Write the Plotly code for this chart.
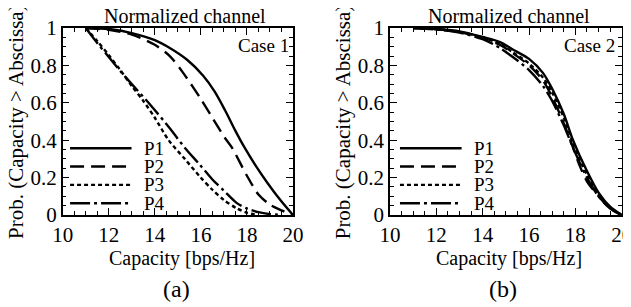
import plotly.graph_objects as go

# ---------------- data ----------------
series_names = ["P1", "P2", "P3", "P4"]

# Case 1 (panel a)
c1_p1_x = [11, 12, 13, 14, 14.65, 15.4, 16.1, 16.6, 17.05, 17.5, 17.9, 18.4, 18.9, 19.45, 20]
c1_p1_y = [1.0, 0.995, 0.973, 0.935, 0.893, 0.83, 0.745, 0.66, 0.56, 0.45, 0.36, 0.26, 0.17, 0.08, 0.0]
c1_p2_x = [11, 12, 13, 14, 14.65, 15.23, 16, 16.5, 17, 17.35, 18, 18.5, 19, 19.5, 20]
c1_p2_y = [1.0, 0.99, 0.965, 0.91, 0.85, 0.76, 0.62, 0.52, 0.42, 0.36, 0.21, 0.11, 0.055, 0.025, 0.0]
c1_p3_x = [11, 11.5, 12, 12.5, 13, 13.5, 14, 14.6, 15.3, 15.96, 16.5, 17, 17.55, 18, 18.5]
c1_p3_y = [1.0, 0.93, 0.855, 0.775, 0.69, 0.61, 0.52, 0.40, 0.30, 0.205, 0.135, 0.08, 0.036, 0.012, 0.0]
c1_p4_x = [11, 11.5, 12, 12.5, 13, 13.8, 14.65, 15.3, 15.96, 16.5, 17, 17.55, 18, 18.5, 19, 19.5]
c1_p4_y = [1.0, 0.92, 0.845, 0.77, 0.70, 0.59, 0.464, 0.36, 0.268, 0.19, 0.13, 0.065, 0.035, 0.015, 0.005, 0.0]

# Case 2 (panel b)
c2_p1_x = [11, 12, 13, 14, 14.75, 15.3, 16, 16.6, 17, 17.5, 17.9, 18.5, 19, 19.5, 20]
c2_p1_y = [1.0, 0.995, 0.982, 0.952, 0.925, 0.885, 0.835, 0.76, 0.675, 0.54, 0.40, 0.235, 0.12, 0.045, 0.0]
c2_p2_x = [11, 12, 13, 14, 14.75, 15.3, 16, 16.6, 17, 17.5, 17.9, 18.2, 18.5, 19, 19.5, 20]
c2_p2_y = [1.0, 0.993, 0.978, 0.945, 0.91, 0.865, 0.80, 0.72, 0.63, 0.49, 0.36, 0.26, 0.18, 0.10, 0.035, 0.0]
c2_p3_x = [11, 12, 13, 14, 14.75, 15.3, 16, 16.6, 17, 17.5, 17.9, 18.5, 19, 19.5, 20]
c2_p3_y = [1.0, 0.994, 0.98, 0.948, 0.915, 0.87, 0.81, 0.735, 0.655, 0.52, 0.385, 0.215, 0.11, 0.04, 0.0]
c2_p4_x = [11, 12, 13, 14, 14.75, 15.3, 16, 16.6, 17, 17.5, 17.9, 18.5, 19, 19.5, 20]
c2_p4_y = [1.0, 0.992, 0.975, 0.94, 0.893, 0.845, 0.775, 0.69, 0.61, 0.48, 0.36, 0.20, 0.10, 0.035, 0.0]

x_ticks = [10, 12, 14, 16, 18, 20]
y_ticks = [0, 0.2, 0.4, 0.6, 0.8, 1]
y_tick_text = ["0", "0.2", "0.4", "0.6", "0.8", "1"]

panel_titles = ["Normalized channel", "Normalized channel"]
case_labels = ["Case 1", "Case 2"]
panel_letters = ["(a)", "(b)"]
x_title = "Capacity [bps/Hz]"
y_title = "Prob. (Capacity > Abscissa)"

# legend rows (value positions inside the axes)
legend_y = [0.357, 0.259, 0.161, 0.063]
legend_x = [(10.32, 12.99, 13.45), (10.43, 13.09, 13.55)]

# ---------------- styling ----------------
FONT = "Liberation Serif"
dashes = ["solid", "14px,7px", "4px,3px", "20px,4px,3px,4px"]
LW = 2.4

# the page body adds an 8px margin; size the figure so it fills the window
OFF = 8.0
W, H = 631 - 8, 307 - 8


def px(xp):
    return (xp - OFF) / W


def py(yp):
    return 1 - (yp - OFF) / H


dom_x = [[px(62.7), px(293.0)], [px(390.0), px(621.7)]]
dom_y = [py(215.0), py(28.0)]

fig = go.Figure()

cases = [
    [(c1_p1_x, c1_p1_y), (c1_p2_x, c1_p2_y), (c1_p3_x, c1_p3_y), (c1_p4_x, c1_p4_y)],
    [(c2_p1_x, c2_p1_y), (c2_p2_x, c2_p2_y), (c2_p3_x, c2_p3_y), (c2_p4_x, c2_p4_y)],
]

for ci, case in enumerate(cases):
    xa = "x" if ci == 0 else "x2"
    ya = "y" if ci == 0 else "y2"
    for si, (xs, ys) in enumerate(case):
        fig.add_trace(go.Scatter(
            x=xs, y=ys, mode="lines", name=series_names[si],
            line=dict(color="black", width=LW, dash=dashes[si], shape="spline", smoothing=0.8),
            xaxis=xa, yaxis=ya, showlegend=False, hoverinfo="skip",
        ))

axis_common = dict(
    showline=True, linecolor="black", linewidth=1.5, mirror="ticks",
    ticks="inside", ticklen=7, tickwidth=1.3, tickcolor="black",
    showgrid=False, zeroline=False, automargin=False, ticklabeloverflow="allow",
    tickfont=dict(family=FONT, size=21, color="black"),
)

layout = dict(
    width=W, height=H, margin=dict(l=0, r=0, t=0, b=0, pad=0),
    paper_bgcolor="white", plot_bgcolor="white",
    font=dict(family=FONT, color="black"),
)
for ci in range(2):
    sx = "xaxis" if ci == 0 else "xaxis2"
    sy = "yaxis" if ci == 0 else "yaxis2"
    layout[sx] = dict(axis_common, domain=dom_x[ci], range=[10, 20], tickvals=x_ticks,
                      anchor="y" if ci == 0 else "y2",
                      minor=dict(dtick=0.5, ticks="inside", ticklen=4, tickwidth=1.1, tickcolor="black"))
    layout[sy] = dict(axis_common, domain=dom_y, range=[0, 1], tickvals=y_ticks, ticktext=y_tick_text,
                      anchor="x" if ci == 0 else "x2",
                      minor=dict(dtick=0.05, ticks="inside", ticklen=4, tickwidth=1.1, tickcolor="black"))
fig.update_layout(**layout)

ann = []
shapes = []
offsets = [0, 390.0 - 62.7]
title_cx = [184.5, 509.0]
xt_cx = [181.5, 509.5]
letter_cx = [176.0, 503.0]
case_right = [290.5, 616.5]
for ci in range(2):
    xr = "x" if ci == 0 else "x2"
    yr = "y" if ci == 0 else "y2"
    ann.append(dict(text=panel_titles[ci], xref="paper", yref="paper", x=px(title_cx[ci]), y=py(16.0),
                    showarrow=False, xanchor="center", yanchor="middle",
                    font=dict(family=FONT, size=20, color="black")))
    ann.append(dict(text=case_labels[ci], xref="paper", yref="paper", x=px(case_right[ci]), y=py(45.0),
                    showarrow=False, xanchor="right", yanchor="middle",
                    font=dict(family=FONT, size=19, color="black")))
    ann.append(dict(text=x_title, xref="paper", yref="paper", x=px(xt_cx[ci]), y=py(258.0),
                    showarrow=False, xanchor="center", yanchor="middle",
                    font=dict(family=FONT, size=20, color="black")))
    ann.append(dict(text=panel_letters[ci], xref="paper", yref="paper", x=px(letter_cx[ci]), y=py(289.0),
                    showarrow=False, xanchor="center", yanchor="middle",
                    font=dict(family=FONT, size=24, color="black")))
    ann.append(dict(text=y_title, xref="paper", yref="paper", x=px(16.0 + offsets[ci]), y=py(122.0),
                    showarrow=False, xanchor="center", yanchor="middle", textangle=-90,
                    font=dict(family=FONT, size=21, color="black")))
    x0, x1, xl = legend_x[ci]
    for si in range(4):
        shapes.append(dict(type="line", xref=xr, yref=yr, x0=x0, x1=x1, y0=legend_y[si], y1=legend_y[si],
                           line=dict(color="black", width=LW, dash=dashes[si])))
        ann.append(dict(text=series_names[si], xref=xr, yref=yr, x=xl, y=legend_y[si],
                        showarrow=False, xanchor="left", yanchor="middle",
                        font=dict(family=FONT, size=19, color="black")))

fig.update_layout(annotations=ann, shapes=shapes)
fig.write_html("out.html", config={"displayModeBar": False})
